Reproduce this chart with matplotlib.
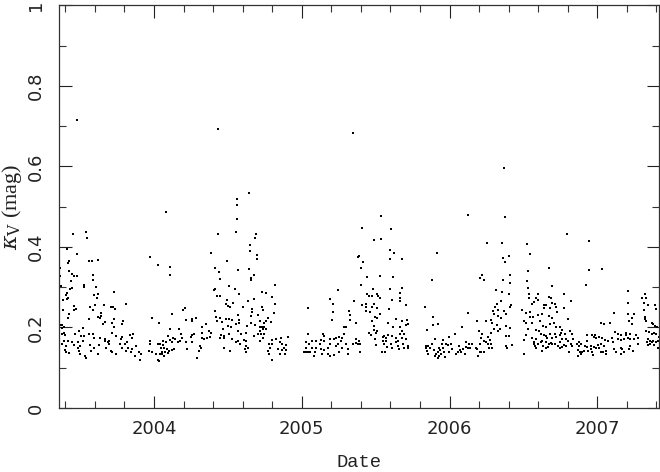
import numpy as np
import matplotlib
matplotlib.use("Agg")
import matplotlib.pyplot as plt
from matplotlib.ticker import MultipleLocator, FuncFormatter

# (date in decimal years, kappa_V in mag)
obs_2003 = [
    (2003.479, 0.715), (2003.452, 0.432), (2003.542, 0.436), (2003.544, 0.422), (2003.413, 0.394),
    (2003.479, 0.383), (2003.970, 0.375), (2003.422, 0.365), (2003.418, 0.361), (2003.560, 0.365),
    (2003.580, 0.365), (2003.621, 0.368), (2004.027, 0.356), (2003.362, 0.347), (2003.427, 0.340),
    (2003.443, 0.332), (2003.458, 0.328), (2003.481, 0.328), (2003.585, 0.330), (2003.587, 0.319),
    (2003.364, 0.328), (2003.436, 0.315), (2003.445, 0.299), (2003.434, 0.295), (2003.373, 0.304),
    (2003.528, 0.305), (2003.524, 0.301), (2003.605, 0.300), (2003.413, 0.286), (2003.407, 0.281),
    (2003.418, 0.274), (2003.411, 0.270), (2003.727, 0.289), (2003.621, 0.283), (2003.612, 0.274),
    (2003.592, 0.281), (2003.384, 0.268), (2003.810, 0.258), (2003.461, 0.254), (2003.470, 0.247),
    (2003.456, 0.244), (2003.567, 0.252), (2003.585, 0.244), (2003.601, 0.257), (2003.707, 0.252),
    (2003.722, 0.251), (2003.738, 0.245), (2003.659, 0.255), (2003.639, 0.237), (2003.643, 0.229),
    (2003.619, 0.226), (2003.637, 0.224), (2003.386, 0.243), (2003.425, 0.233), (2003.420, 0.223),
    (2003.562, 0.221), (2003.790, 0.216), (2003.785, 0.208), (2003.731, 0.220), (2003.713, 0.210),
    (2003.727, 0.200), (2003.668, 0.214), (2003.652, 0.208), (2003.988, 0.224), (2003.380, 0.205),
    (2003.366, 0.206), (2003.391, 0.202), (2003.375, 0.198), (2003.517, 0.198), (2003.492, 0.191),
    (2003.463, 0.184), (2003.389, 0.187), (2003.400, 0.182), (2003.377, 0.183), (2003.506, 0.179),
    (2003.528, 0.179), (2003.562, 0.183), (2003.589, 0.183), (2003.596, 0.175), (2003.632, 0.175),
    (2003.668, 0.171), (2003.695, 0.167), (2003.718, 0.187), (2003.740, 0.179), (2003.776, 0.171),
    (2003.785, 0.177), (2003.837, 0.182), (2003.858, 0.183), (2003.849, 0.173), (2003.393, 0.167),
    (2003.375, 0.160), (2003.402, 0.154), (2003.418, 0.167), (2003.443, 0.163), (2003.485, 0.163),
    (2003.519, 0.167), (2003.501, 0.154), (2003.483, 0.150), (2003.458, 0.157), (2003.567, 0.157),
    (2003.594, 0.150), (2003.628, 0.157), (2003.668, 0.167), (2003.686, 0.163), (2003.695, 0.158),
    (2003.677, 0.150), (2003.707, 0.142), (2003.718, 0.138), (2003.745, 0.135), (2003.772, 0.158),
    (2003.781, 0.150), (2003.803, 0.160), (2003.819, 0.165), (2003.826, 0.150), (2003.808, 0.142),
    (2003.842, 0.138), (2003.853, 0.146), (2003.876, 0.154), (2003.871, 0.130), (2003.898, 0.139),
    (2003.912, 0.135), (2003.903, 0.119), (2003.398, 0.144), (2003.407, 0.138), (2003.425, 0.136),
    (2003.492, 0.142), (2003.497, 0.135), (2003.533, 0.130), (2003.537, 0.124), (2003.574, 0.142),
    (2003.623, 0.134), (2003.970, 0.167), (2003.973, 0.158), (2003.966, 0.142), (2003.984, 0.140),
    (2004.011, 0.134), (2004.029, 0.158), (2004.025, 0.119),
]

obs_2004 = [
    (2004.433, 0.694), (2004.643, 0.535), (2004.560, 0.520), (2004.560, 0.505), (2004.079, 0.487),
    (2004.564, 0.470), (2004.555, 0.438), (2004.688, 0.432), (2004.433, 0.431), (2004.686, 0.421),
    (2004.652, 0.406), (2004.650, 0.389), (2004.386, 0.384), (2004.697, 0.380), (2004.695, 0.369),
    (2004.496, 0.366), (2004.411, 0.348), (2004.106, 0.351), (2004.111, 0.330), (2004.566, 0.342),
    (2004.641, 0.346), (2004.440, 0.338), (2004.675, 0.331), (2004.654, 0.322), (2004.659, 0.318),
    (2004.445, 0.321), (2004.510, 0.303), (2004.546, 0.295), (2004.411, 0.295), (2004.406, 0.292),
    (2004.573, 0.284), (2004.429, 0.277), (2004.447, 0.277), (2004.492, 0.267), (2004.638, 0.266),
    (2004.677, 0.270), (2004.535, 0.262), (2004.487, 0.259), (2004.501, 0.253), (2004.514, 0.252),
    (2004.666, 0.245), (2004.666, 0.239), (2004.210, 0.249), (2004.194, 0.244), (2004.124, 0.234),
    (2004.600, 0.252), (2004.411, 0.241), (2004.571, 0.231), (2004.654, 0.229), (2004.704, 0.231),
    (2004.417, 0.226), (2004.449, 0.224), (2004.260, 0.220), (2004.287, 0.223), (2004.485, 0.220),
    (2004.508, 0.222), (2004.526, 0.218), (2004.215, 0.218), (2004.255, 0.216), (2004.577, 0.218),
    (2004.575, 0.212), (2004.424, 0.216), (2004.458, 0.213), (2004.350, 0.208), (2004.323, 0.200),
    (2004.034, 0.212), (2004.659, 0.212), (2004.557, 0.208), (2004.501, 0.204), (2004.521, 0.200),
    (2004.632, 0.204), (2004.686, 0.206), (2004.169, 0.197), (2004.111, 0.196), (2004.467, 0.196),
    (2004.372, 0.191), (2004.327, 0.187), (2004.386, 0.187), (2004.568, 0.191), (2004.620, 0.187),
    (2004.591, 0.183), (2004.260, 0.182), (2004.271, 0.183), (2004.377, 0.177), (2004.453, 0.181),
    (2004.472, 0.179), (2004.505, 0.183), (2004.679, 0.179), (2004.702, 0.183), (2004.093, 0.180),
    (2004.183, 0.183), (2004.129, 0.175), (2004.192, 0.173), (2004.248, 0.177), (2004.327, 0.173),
    (2004.341, 0.172), (2004.359, 0.173), (2004.449, 0.175), (2004.474, 0.173), (2004.530, 0.171),
    (2004.566, 0.167), (2004.609, 0.168), (2004.625, 0.167), (2004.061, 0.167), (2004.079, 0.165),
    (2004.108, 0.168), (2004.120, 0.163), (2004.142, 0.171), (2004.160, 0.163), (2004.176, 0.166),
    (2004.219, 0.163), (2004.260, 0.163), (2004.314, 0.154), (2004.316, 0.150), (2004.553, 0.165),
    (2004.584, 0.160), (2004.620, 0.154), (2004.634, 0.150), (2004.039, 0.158), (2004.061, 0.157),
    (2004.048, 0.149), (2004.070, 0.150), (2004.090, 0.146), (2004.102, 0.142), (2004.075, 0.140),
    (2004.057, 0.140), (2004.120, 0.144), (2004.138, 0.146), (2004.226, 0.146), (2004.305, 0.142),
    (2004.476, 0.150), (2004.517, 0.142), (2004.616, 0.146), (2004.625, 0.138), (2004.043, 0.134),
    (2004.052, 0.135), (2004.066, 0.130), (2004.097, 0.136), (2004.034, 0.117), (2004.291, 0.125),
]

obs_2005a = [
    (2005.344, 0.684), (2005.382, 0.375), (2004.816, 0.305), (2004.728, 0.288), (2004.760, 0.285),
    (2004.796, 0.276), (2004.821, 0.259), (2005.245, 0.293), (2005.190, 0.271), (2005.208, 0.259),
    (2005.044, 0.248), (2004.730, 0.252), (2004.735, 0.244), (2005.350, 0.266), (2005.211, 0.239),
    (2005.319, 0.241), (2005.323, 0.230), (2004.811, 0.237), (2004.771, 0.223), (2004.755, 0.216),
    (2004.793, 0.213), (2004.717, 0.216), (2004.742, 0.210), (2004.728, 0.202), (2004.715, 0.200),
    (2004.746, 0.200), (2004.737, 0.196), (2004.755, 0.196), (2004.719, 0.191), (2005.283, 0.201),
    (2005.296, 0.201), (2005.369, 0.210), (2005.206, 0.219), (2005.328, 0.219), (2004.724, 0.183),
    (2004.746, 0.185), (2005.143, 0.185), (2005.039, 0.185), (2005.287, 0.183), (2005.251, 0.177),
    (2004.715, 0.167), (2004.737, 0.175), (2004.796, 0.169), (2004.827, 0.172), (2004.859, 0.174),
    (2004.906, 0.177), (2005.152, 0.179), (2005.193, 0.172), (2005.220, 0.172), (2005.233, 0.175),
    (2005.274, 0.173), (2005.262, 0.167), (2005.364, 0.171), (2005.369, 0.162), (2005.127, 0.168),
    (2005.026, 0.163), (2005.048, 0.160), (2005.066, 0.167), (2005.093, 0.167), (2005.120, 0.160),
    (2005.152, 0.167), (2005.188, 0.160), (2005.242, 0.160), (2005.296, 0.160), (2005.348, 0.160),
    (2004.778, 0.158), (2004.800, 0.160), (2004.850, 0.163), (2004.868, 0.158), (2004.895, 0.157),
    (2004.881, 0.150), (2004.782, 0.150), (2004.841, 0.146), (2004.863, 0.144), (2004.890, 0.144),
    (2004.886, 0.135), (2004.854, 0.135), (2004.773, 0.142), (2004.778, 0.134), (2004.800, 0.119),
    (2005.030, 0.149), (2005.066, 0.150), (2005.098, 0.150), (2005.129, 0.147), (2005.152, 0.144),
    (2005.179, 0.150), (2005.229, 0.154), (2005.269, 0.150), (2005.310, 0.146), (2005.012, 0.140),
    (2005.026, 0.140), (2005.044, 0.139), (2005.057, 0.140), (2005.089, 0.138), (2005.134, 0.135),
    (2005.179, 0.135), (2005.188, 0.130), (2005.220, 0.132), (2005.084, 0.130), (2005.251, 0.138),
    (2005.314, 0.134), (2005.378, 0.160),
]

obs_2005b = [
    (2005.536, 0.478), (2005.407, 0.447), (2005.601, 0.445), (2005.486, 0.417), (2005.534, 0.419),
    (2005.594, 0.393), (2005.621, 0.385), (2005.917, 0.384), (2005.387, 0.377), (2005.414, 0.363),
    (2005.599, 0.371), (2005.680, 0.371), (2005.398, 0.347), (2005.443, 0.325), (2005.527, 0.327),
    (2005.617, 0.325), (2005.879, 0.318), (2005.401, 0.305), (2005.484, 0.295), (2005.676, 0.299),
    (2005.594, 0.295), (2005.441, 0.282), (2005.455, 0.278), (2005.477, 0.279), (2005.511, 0.284),
    (2005.518, 0.278), (2005.527, 0.274), (2005.667, 0.285), (2005.664, 0.274), (2005.667, 0.266),
    (2005.613, 0.267), (2005.405, 0.257), (2005.437, 0.259), (2005.432, 0.251), (2005.473, 0.251),
    (2005.486, 0.259), (2005.509, 0.249), (2005.703, 0.256), (2005.592, 0.245), (2005.834, 0.251),
    (2005.432, 0.241), (2005.464, 0.239), (2005.529, 0.234), (2005.888, 0.227), (2005.509, 0.224),
    (2005.495, 0.226), (2005.635, 0.220), (2005.710, 0.218), (2005.477, 0.216), (2005.581, 0.210),
    (2005.716, 0.208), (2005.703, 0.205), (2005.676, 0.216), (2005.921, 0.208), (2005.888, 0.207),
    (2005.486, 0.203), (2005.617, 0.200), (2005.662, 0.202), (2005.847, 0.194), (2005.491, 0.194),
    (2005.509, 0.190), (2005.500, 0.187), (2005.452, 0.186), (2005.468, 0.182), (2005.676, 0.190),
    (2005.662, 0.183), (2005.694, 0.183), (2006.037, 0.185), (2005.581, 0.182), (2005.558, 0.178),
    (2005.613, 0.179), (2005.640, 0.175), (2005.649, 0.167), (2005.680, 0.175), (2005.703, 0.171),
    (2005.721, 0.153), (2005.721, 0.148), (2005.549, 0.177), (2005.567, 0.175), (2005.547, 0.167),
    (2005.572, 0.167), (2005.387, 0.167), (2005.392, 0.160), (2005.495, 0.171), (2005.504, 0.156),
    (2005.554, 0.160), (2005.604, 0.160), (2005.635, 0.163), (2005.653, 0.154), (2005.685, 0.160),
    (2005.694, 0.150), (2005.658, 0.146), (2005.613, 0.150), (2005.576, 0.152), (2005.901, 0.171),
    (2005.955, 0.168), (2005.996, 0.177), (2005.951, 0.160), (2005.978, 0.160), (2006.009, 0.160),
    (2005.879, 0.158), (2005.838, 0.154), (2005.852, 0.154), (2005.843, 0.150), (2005.870, 0.149),
    (2005.894, 0.144), (2005.849, 0.142), (2005.928, 0.150), (2005.937, 0.144), (2005.955, 0.149),
    (2005.991, 0.157), (2006.018, 0.146), (2006.064, 0.154), (2006.055, 0.140), (2006.041, 0.134),
    (2005.996, 0.138), (2005.964, 0.138), (2005.919, 0.138), (2005.906, 0.135), (2005.901, 0.130),
    (2005.928, 0.130), (2005.924, 0.124), (2005.942, 0.134), (2005.856, 0.134), (2005.969, 0.127),
    (2005.540, 0.138), (2005.563, 0.140), (2005.392, 0.138),
]

obs_2006 = [
    (2006.370, 0.596), (2006.127, 0.479), (2006.373, 0.474), (2006.256, 0.409), (2006.357, 0.411),
    (2006.526, 0.407), (2006.544, 0.383), (2006.402, 0.378), (2006.359, 0.373), (2006.375, 0.362),
    (2006.673, 0.348), (2006.220, 0.330), (2006.204, 0.323), (2006.235, 0.317), (2006.407, 0.330),
    (2006.529, 0.340), (2006.364, 0.319), (2006.524, 0.315), (2006.407, 0.310), (2006.695, 0.303),
    (2006.533, 0.297), (2006.317, 0.294), (2006.357, 0.289), (2006.538, 0.282), (2006.402, 0.282),
    (2006.601, 0.282), (2006.673, 0.276), (2006.538, 0.274), (2006.583, 0.272), (2006.596, 0.267),
    (2006.686, 0.272), (2006.350, 0.266), (2006.305, 0.252), (2006.321, 0.259), (2006.414, 0.256),
    (2006.409, 0.251), (2006.556, 0.259), (2006.574, 0.264), (2006.637, 0.257), (2006.655, 0.256),
    (2006.691, 0.262), (2006.713, 0.259), (2006.718, 0.251), (2006.641, 0.249), (2006.677, 0.248),
    (2006.127, 0.237), (2006.292, 0.241), (2006.326, 0.244), (2006.366, 0.241), (2006.492, 0.243),
    (2006.515, 0.237), (2006.542, 0.239), (2006.299, 0.233), (2006.330, 0.229), (2006.384, 0.233),
    (2006.547, 0.227), (2006.565, 0.227), (2006.601, 0.231), (2006.628, 0.233), (2006.673, 0.229),
    (2006.691, 0.224), (2006.729, 0.239), (2006.346, 0.224), (2006.502, 0.215), (2006.515, 0.211),
    (2006.556, 0.212), (2006.087, 0.201), (2006.188, 0.216), (2006.244, 0.215), (2006.281, 0.218),
    (2006.290, 0.211), (2006.321, 0.205), (2006.380, 0.203), (2006.411, 0.198), (2006.612, 0.215),
    (2006.632, 0.204), (2006.655, 0.201), (2006.682, 0.208), (2006.704, 0.212), (2006.718, 0.202),
    (2006.303, 0.196), (2006.199, 0.190), (2006.217, 0.183), (2006.281, 0.187), (2006.339, 0.196),
    (2006.330, 0.190), (2006.384, 0.179), (2006.402, 0.179), (2006.533, 0.196), (2006.583, 0.193),
    (2006.605, 0.191), (2006.619, 0.185), (2006.637, 0.182), (2006.655, 0.179), (2006.677, 0.183),
    (2006.713, 0.183), (2006.515, 0.181), (2006.506, 0.168), (2006.556, 0.175), (2006.583, 0.171),
    (2006.628, 0.167), (2006.659, 0.173), (2006.695, 0.175), (2006.723, 0.177), (2006.213, 0.175),
    (2006.263, 0.177), (2006.271, 0.168), (2006.244, 0.163), (2006.204, 0.160), (2006.114, 0.165),
    (2006.154, 0.160), (2006.132, 0.160), (2006.263, 0.158), (2006.281, 0.160), (2006.231, 0.167),
    (2006.420, 0.157), (2006.380, 0.153), (2006.391, 0.150), (2006.569, 0.163), (2006.574, 0.160),
    (2006.596, 0.158), (2006.619, 0.163), (2006.655, 0.163), (2006.673, 0.160), (2006.686, 0.162),
    (2006.713, 0.158), (2006.732, 0.154), (2006.109, 0.152), (2006.141, 0.150), (2006.091, 0.146),
    (2006.069, 0.144), (2006.078, 0.138), (2006.105, 0.135), (2006.127, 0.148), (2006.177, 0.150),
    (2006.186, 0.146), (2006.204, 0.140), (2006.213, 0.138), (2006.235, 0.138), (2006.190, 0.130),
    (2006.267, 0.149), (2006.285, 0.150), (2006.578, 0.154), (2006.587, 0.149), (2006.632, 0.154),
    (2006.668, 0.152), (2006.650, 0.149), (2006.628, 0.142), (2006.506, 0.135), (2006.691, 0.158),
]

obs_2007 = [
    (2006.794, 0.432), (2006.945, 0.416), (2006.947, 0.343), (2007.035, 0.345), (2006.920, 0.305),
    (2007.205, 0.290), (2006.772, 0.284), (2006.823, 0.266), (2007.205, 0.260), (2007.299, 0.274),
    (2007.322, 0.284), (2007.331, 0.272), (2007.313, 0.262), (2007.344, 0.257), (2007.390, 0.257),
    (2007.394, 0.245), (2006.774, 0.249), (2007.313, 0.243), (2007.205, 0.233), (2007.232, 0.224),
    (2007.245, 0.233), (2007.114, 0.235), (2006.801, 0.220), (2007.211, 0.216), (2007.234, 0.208),
    (2007.320, 0.226), (2007.326, 0.220), (2007.026, 0.212), (2007.042, 0.208), (2007.087, 0.211),
    (2007.331, 0.215), (2007.367, 0.212), (2007.378, 0.208), (2007.390, 0.204), (2007.403, 0.201),
    (2006.749, 0.200), (2006.763, 0.193), (2006.754, 0.187), (2006.812, 0.191), (2006.826, 0.185),
    (2006.781, 0.185), (2006.745, 0.182), (2007.119, 0.188), (2007.137, 0.183), (2007.162, 0.182),
    (2007.191, 0.187), (2007.218, 0.185), (2007.196, 0.182), (2007.259, 0.182), (2007.331, 0.191),
    (2007.349, 0.188), (2007.367, 0.183), (2007.385, 0.187), (2007.399, 0.183), (2006.929, 0.182),
    (2006.961, 0.182), (2006.979, 0.177), (2006.986, 0.182), (2007.011, 0.177), (2007.033, 0.175),
    (2007.096, 0.175), (2006.993, 0.173), (2006.758, 0.171), (2006.785, 0.171), (2006.799, 0.167),
    (2006.835, 0.171), (2006.875, 0.163), (2006.929, 0.167), (2007.051, 0.168), (2007.074, 0.167),
    (2007.105, 0.163), (2007.137, 0.171), (2007.160, 0.168), (2007.178, 0.172), (2007.209, 0.175),
    (2007.223, 0.171), (2007.250, 0.171), (2007.277, 0.175), (2007.344, 0.171), (2007.358, 0.167),
    (2007.371, 0.163), (2007.335, 0.163), (2007.408, 0.167), (2006.749, 0.163), (2006.772, 0.157),
    (2006.763, 0.152), (2006.790, 0.154), (2006.821, 0.160), (2006.830, 0.154), (2006.862, 0.158),
    (2006.875, 0.154), (2006.889, 0.158), (2006.916, 0.153), (2006.929, 0.152), (2006.956, 0.154),
    (2006.975, 0.152), (2007.002, 0.157), (2007.024, 0.160), (2007.047, 0.153), (2007.011, 0.150),
    (2006.988, 0.149), (2006.957, 0.146), (2006.866, 0.144), (2006.880, 0.140), (2006.898, 0.138),
    (2006.889, 0.135), (2006.907, 0.142), (2006.966, 0.138), (2006.970, 0.132), (2007.024, 0.140),
    (2007.038, 0.138), (2007.056, 0.142), (2007.060, 0.135), (2006.866, 0.130), (2006.938, 0.142),
    (2006.745, 0.149), (2006.808, 0.138), (2007.110, 0.146), (2007.123, 0.140), (2007.160, 0.150),
    (2007.168, 0.146), (2007.182, 0.138), (2007.160, 0.135), (2007.214, 0.146), (2007.241, 0.142),
    (2007.272, 0.160), (2007.218, 0.154), (2007.335, 0.165), (2007.344, 0.157), (2007.358, 0.160),
    (2007.376, 0.167), (2007.385, 0.157), (2007.394, 0.163), (2007.408, 0.149), (2007.417, 0.177),
]

seasons = [obs_2003, obs_2004, obs_2005a, obs_2005b, obs_2006, obs_2007]
data = np.array([p for s in seasons for p in s])
date = data[:, 0]
kappa = data[:, 1]

plt.rcParams['font.family'] = ['DejaVu Sans']
plt.rcParams['mathtext.fontset'] = 'dejavuserif'

fig = plt.figure(figsize=(6.6, 4.72), dpi=100)
ax = fig.add_axes([0.0894, 0.1356, 0.909, 0.853])

ax.plot(date, kappa, linestyle='none', marker='s', markersize=1.7,
        markeredgewidth=0, color='black')

ax.set_xlim(2003.357, 2007.417)
ax.set_ylim(0, 1)

ax.xaxis.set_major_locator(MultipleLocator(1))
ax.xaxis.set_minor_locator(MultipleLocator(0.2))
ax.yaxis.set_major_locator(MultipleLocator(0.2))
ax.yaxis.set_minor_locator(MultipleLocator(0.1))
ax.xaxis.set_major_formatter(FuncFormatter(lambda v, p: f"{v:.0f}"))
ax.yaxis.set_major_formatter(FuncFormatter(lambda v, p: f"{v:.1f}".rstrip('0').rstrip('.') if v else "0"))

ax.tick_params(which='both', direction='in', top=True, right=True, width=0.8, color='#333333')
ax.tick_params(which='major', length=9)
ax.tick_params(which='minor', length=5)
ax.tick_params(axis='x', labelsize=13, pad=9, colors='#222222')
ax.tick_params(axis='y', labelsize=13, pad=10, colors='#222222')
for lbl in ax.get_yticklabels():
    lbl.set_rotation(90)
    lbl.set_va('center')

for sp in ax.spines.values():
    sp.set_linewidth(0.9)
    sp.set_color('#333333')

ax.set_xlabel("Date", family='Liberation Mono', fontsize=13.5, labelpad=11, color='#222222')
ax.set_ylabel(r"$\kappa_{\rm V}$ (mag)", family='Liberation Serif', fontsize=16, labelpad=2,
              color='#222222')

fig.savefig("out.png", dpi=100)
